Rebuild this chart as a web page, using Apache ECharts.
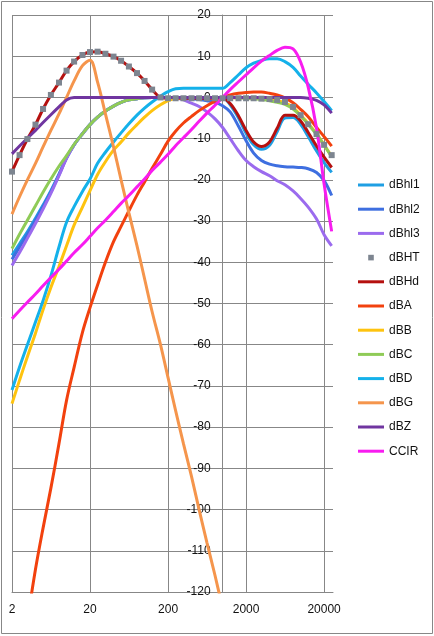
<!DOCTYPE html>
<html><head><meta charset="utf-8">
<script src="https://cdn.jsdelivr.net/npm/echarts@6/dist/echarts.min.js"></script>
<style>html,body{margin:0;padding:0;background:#fff}#c{width:434px;height:636px}</style>
</head><body><div id="c"></div>
<script>
// 1/3-octave frequencies (Hz)
const freqs = [2, 2.5, 3.15, 4, 5, 6.3, 8, 10, 12.5, 16, 20, 25, 31.5, 40, 50, 63, 80, 100, 125, 160,
  200, 250, 315, 400, 500, 630, 800, 1000, 1250, 1600, 2000, 2500, 3150, 4000, 5000, 6300, 8000, 10000, 12500, 16000, 20000, 25000];
const xTickLabels = ['2', '20', '200', '2000', '20000'];
const yTickValues = [-120, -110, -100, -90, -80, -70, -60, -50, -40, -30, -20, -10, 0, 10, 20];

const dBhl1 = [-38.3, -35.5, -32.6, -29.3, -26.1, -22.6, -18.6, -14.6, -11.5, -8.8, -6.6, -4.8, -3.3, -2.1, -1.2, -0.6, -0.3, -0.1, 0, 0,
  0, 0, 0, 0, 0, 0, 0, 0, -1.8, -5.0, -8.7, -11.5, -12.6, -11.6, -8.3, -5.0, -4.9, -6.5, -9.5, -13.0, -15.8, -18.2];
const dBhl2 = [-39.3, -36.3, -33.2, -29.8, -26.5, -22.9, -18.8, -14.7, -11.5, -8.8, -6.6, -4.8, -3.3, -2.1, -1.2, -0.6, -0.3, -0.1, 0, 0,
  0, 0, -0.1, -0.3, -0.5, -0.8, -1.2, -2.0, -3.5, -7.0, -10.5, -13.5, -15.3, -16.2, -16.6, -16.8, -16.9, -17.0, -17.3, -18.2, -20.2, -23.8];
const dBhl3 = [-40.8, -37.6, -34.2, -30.6, -27.1, -23.3, -19.0, -14.8, -11.5, -8.8, -6.6, -4.8, -3.3, -2.1, -1.2, -0.6, -0.3, -0.1, 0, 0,
  0, -0.1, -0.6, -1.4, -2.2, -3.5, -5.2, -7.3, -10.0, -13.0, -15.3, -16.8, -18.0, -19.0, -20.2, -21.2, -22.7, -24.5, -26.6, -29.5, -33.3, -36.0];
const dBHT = [-18.0, -14.0, -10.1, -6.6, -2.8, 0.6, 3.6, 6.5, 8.7, 10.3, 11.0, 11.1, 10.6, 9.9, 8.9, 7.5, 5.9, 4.0, 1.9, 0,
  -0.2, -0.2, -0.2, -0.2, -0.2, -0.2, -0.2, -0.2, -0.2, -0.2, -0.2, -0.2, -0.3, -0.4, -0.6, -1.1, -2.3, -4.3, -6.5, -8.9, -11.5, -14.0];
const dBHd = [-18.0, -14.0, -10.1, -6.6, -2.8, 0.6, 3.6, 6.5, 8.7, 10.3, 11.0, 11.1, 10.6, 9.9, 8.9, 7.5, 5.9, 4.0, 1.9, 0,
  -0.2, -0.2, -0.2, -0.2, -0.2, -0.2, -0.2, -0.2, -1.5, -4.5, -8.0, -10.8, -11.9, -10.8, -7.5, -4.3, -4.3, -5.7, -8.5, -11.8, -14.5, -17.0];
const dBA = [null, null, -127.0, -114.5, -104.5, -94.8, -84.0, -73.5, -65.5, -57.0, -51.0, -45.5, -40.0, -35.0, -31.3, -27.5, -23.7, -20.5, -17.2, -13.8,
  -10.6, -8.2, -6.2, -4.6, -3.2, -2.0, -0.9, 0, 0.6, 1.0, 1.2, 1.3, 1.3, 1.0, 0.6, -0.1, -1.3, -2.9, -4.7, -7.3, -9.5, -11.8];
const dBB = [-74.3, -68.6, -62.9, -57.2, -51.5, -46.1, -41.0, -36.0, -31.0, -26.6, -22.6, -18.7, -15.6, -12.8, -10.8, -8.6, -6.6, -4.8, -3.2, -1.8,
  -0.8, -0.2, 0, 0, 0, 0, 0, 0, 0, -0.1, -0.1, -0.2, -0.3, -0.5, -0.8, -1.3, -2.4, -4.3, -6.3, -8.8, -11.5, -14.3];
const dBC = [-36.7, -33.2, -29.8, -26.3, -23.0, -19.8, -16.7, -14.1, -11.4, -8.8, -6.6, -4.8, -3.3, -2.1, -1.2, -0.6, -0.3, -0.1, 0, 0,
  0, 0, 0, 0, 0, 0, 0, 0, 0, -0.1, -0.2, -0.3, -0.5, -0.8, -1.2, -1.7, -2.8, -4.5, -6.5, -9.0, -11.6, -14.4];
const dBD = [-71.0, -65.4, -60.0, -54.5, -49.3, -43.3, -36.3, -30.3, -26.5, -22.8, -19.8, -16.0, -13.3, -10.8, -8.6, -6.4, -4.3, -2.6, -1.1, 0.3,
  1.4, 2.1, 2.2, 2.2, 2.2, 2.2, 2.2, 2.2, 3.6, 5.5, 7.2, 8.3, 9.0, 9.4, 9.4, 8.7, 7.3, 5.2, 3.2, 1.1, -1.0, -3.2];
const dBG = [-28.3, -24.1, -20.0, -16.0, -12.0, -8.0, -4.0, 0.0, 4.0, 7.7, 9.0, 3.7, -4.0, -12.0, -20.0, -28.0, -36.0, -44.0, -52.0, -60.0,
  -68.0, -76.0, -84.0, -92.0, -100.0, -108.0, -116.0, -124.0, null, null, null, null, null, null, null, null, null, null, null, null, null, null];
const dBZ = [-13.7, -11.8, -9.9, -8.0, -6.1, -4.2, -2.3, -0.6, 0, 0, 0, 0, 0, 0, 0, 0, 0, 0, 0, 0,
  0, 0, 0, 0, 0, 0, 0, 0, 0, 0, 0, 0, 0, 0, 0, 0, 0, 0, -0.2, -0.7, -1.8, -3.8];
const CCIR = [-53.7, -51.7, -49.7, -47.7, -45.7, -43.7, -41.7, -39.7, -37.7, -35.7, -33.7, -31.7, -29.8, -27.7, -25.7, -23.8, -21.7, -19.8, -17.7, -15.7,
  -13.8, -11.7, -9.8, -7.8, -5.8, -3.8, -1.9, 0, 1.9, 3.8, 5.5, 7.2, 8.8, 10.2, 11.4, 12.2, 11.8, 8.6, 2.5, -7.5, -21.0, -32.5];

const seriesNames = ['dBhl1', 'dBhl2', 'dBhl3', 'dBHT', 'dBHd', 'dBA', 'dBB', 'dBC', 'dBD', 'dBG', 'dBZ', 'CCIR'];
const seriesValues = [dBhl1, dBhl2, dBhl3, dBHT, dBHd, dBA, dBB, dBC, dBD, dBG, dBZ, CCIR];
const seriesColors = ['#1f9fe3', '#3e6fe0', '#9b6bee', '#7d8590', '#b5100f', '#f2410e', '#fec30f', '#8fcb57', '#14b1ea', '#f5954c', '#7035a0', '#f81cf0'];

// axis reference: log axis counted from 2 Hz (ticks at 2, 20, 200 ...)
const X_REF = 2;
const X_MIN = 1, X_MAX = 13000;   // in units of f / 2 Hz
const GRID = {left: 12, right: 101, top: 15, bottom: 44};
const plotW = 434 - GRID.left - GRID.right;
const yAxisAtHz = 1000;
const yOffset = -plotW * Math.log10(yAxisAtHz / X_REF / X_MIN) / Math.log10(X_MAX / X_MIN);

const gridColor = '#878787';
const font = 'Liberation Sans';

const series = seriesNames.map((name, k) => {
  const data = freqs.map((f, i) => [f / X_REF, seriesValues[k][i]]);
  const isMarker = name === 'dBHT';
  return {
    name, type: 'line', data,
    smooth: isMarker ? false : 0.35,
    connectNulls: false,
    symbol: isMarker ? 'rect' : 'none',
    symbolSize: 6,
    showSymbol: isMarker,
    z: isMarker ? 4 : 2,
    itemStyle: {color: seriesColors[k], borderWidth: 0},
    lineStyle: {color: seriesColors[k], width: isMarker ? 0 : 3, opacity: isMarker ? 0 : 1},
    emphasis: {disabled: true},
    clip: true
  };
});

const legends = seriesNames.map((name, i) => {
  const isMarker = name === 'dBHT';
  const item = isMarker ? {name} : {name, icon: 'path://M0,0h26v3h-26z'};
  return {
    data: [item],
    orient: 'vertical',
    left: 358,
    top: 185 + i * 24.2 - 6,
    padding: 0,
    itemWidth: 26,
    itemHeight: isMarker ? 7 : 6,
    symbolKeepAspect: true,
    selectedMode: false,
    itemStyle: {borderWidth: 0},
    textStyle: {fontFamily: font, fontSize: 12, color: '#111'}
  };
});

const chart = echarts.init(document.getElementById('c'), null, {renderer: 'canvas'});
chart.setOption({
  animation: false,
  backgroundColor: '#fff',
  textStyle: {fontFamily: font},
  graphic: [{
    type: 'rect', silent: true, z: -10,
    shape: {x: 1.5, y: 1.5, width: 431, height: 632},
    style: {fill: 'none', stroke: gridColor, lineWidth: 1}
  }],
  grid: Object.assign({containLabel: false, outerBoundsMode: 'none'}, GRID),
  legend: legends,
  xAxis: {
    type: 'log', logBase: 10, min: X_MIN, max: X_MAX,
    axisLine: {show: true, onZero: false, lineStyle: {color: gridColor, width: 1}},
    axisTick: {show: false},
    minorTick: {show: false},
    axisLabel: {
      margin: 12, fontSize: 12, color: '#111', fontFamily: font,
      showMaxLabel: false,
      formatter: v => { const s = String(Math.round(v * X_REF)); return xTickLabels.includes(s) ? s : ''; }
    },
    splitLine: {show: true, showMinLine: true, showMaxLine: false, lineStyle: {color: gridColor, width: 1}}
  },
  yAxis: {
    type: 'value', min: yTickValues[0], max: yTickValues[yTickValues.length - 1], interval: 10,
    position: 'left', offset: yOffset,
    axisLine: {show: true, onZero: false, lineStyle: {color: gridColor, width: 1}},
    axisTick: {show: false},
    axisLabel: {margin: 12, fontSize: 12, color: '#111', fontFamily: font},
    splitLine: {show: true, showMinLine: true, showMaxLine: true, lineStyle: {color: gridColor, width: 1}}
  },
  series
});
</script></body></html>
